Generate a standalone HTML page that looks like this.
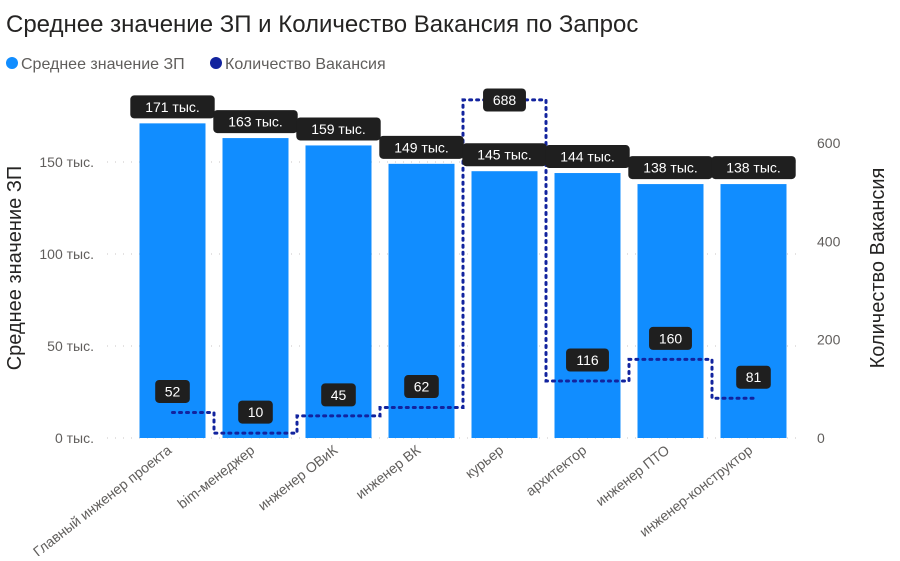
<!DOCTYPE html>
<html><head><meta charset="utf-8"><style>
body{margin:0;background:#fff;font-family:"Liberation Sans","DejaVu Sans",sans-serif;}
</style></head><body>
<svg width="900" height="556" xmlns="http://www.w3.org/2000/svg" font-family="Liberation Sans, DejaVu Sans, sans-serif">
<text x="6" y="32" font-size="24" fill="#252423">Среднее значение ЗП и Количество Вакансия по Запрос</text>
<g>
<circle cx="12" cy="63" r="6" fill="#118DFF"/>
<text x="21" y="69" font-size="16" fill="#605E5C">Среднее значение ЗП</text>
<circle cx="216" cy="63" r="6" fill="#12239E"/>
<text x="225" y="69" font-size="16" fill="#605E5C">Количество Вакансия</text>
</g>
<text transform="translate(21,268) rotate(-90)" text-anchor="middle" font-size="20" fill="#252423">Среднее значение ЗП</text>
<text transform="translate(884,268) rotate(-90)" text-anchor="middle" font-size="20" fill="#252423">Количество Вакансия</text>
<g id="grid"></g><g id="bars"></g><g id="line"></g><g id="labels"></g><g id="axes"></g>
</svg>
<script>
const categories=["Главный инженер проекта","bim-менеджер","инженер ОВиК","инженер ВК","курьер","архитектор","инженер ПТО","инженер-конструктор"];
const salary=[171,163,159,149,145,144,138,138];
const vacancies=[52,10,45,62,688,116,160,81];
const leftTicks=[0,50,100,150];
const rightTicks=[0,200,400,600];
const NS="http://www.w3.org/2000/svg";
const x0=131,step=83,bw=66,base=438;
const yL=v=>base-v*1.84;
const yR=v=>base-v*0.4915;
const cx=i=>x0+step*i+step/2;
function mk(t,a,p){const e=document.createElementNS(NS,t);for(const k in a)e.setAttribute(k,a[k]);p.appendChild(e);return e;}
const grid=document.getElementById('grid'),axes=document.getElementById('axes');
leftTicks.forEach(v=>{
 const l=mk('line',{x1:107,x2:800,y1:yL(v),y2:yL(v),stroke:'#C8C6C4','stroke-dasharray':'1 7'},grid);
 
 
 const t=mk('text',{x:94,y:yL(v)+5,'text-anchor':'end','font-size':14,fill:'#605E5C'},axes);
 t.textContent=v+' тыс.';
 
 
});
rightTicks.forEach(v=>{
 const t=mk('text',{x:817,y:yR(v)+5,'font-size':14,fill:'#605E5C'},axes);
 t.textContent=v;
 
 
});
const bars=document.getElementById('bars'),labels=document.getElementById('labels');
function label(txt,cxp,cy,name){
 const w=txt.length*8.3+18;
 const g=mk('g',{},labels);
 
 
 mk('rect',{x:cxp-w/2,y:cy-11.5,width:w,height:23,rx:4,fill:'#1F1F1F'},g);
 const t=mk('text',{x:cxp,y:cy+5,'text-anchor':'middle','font-size':14,fill:'#fff'},g);
 t.textContent=txt;
}
categories.forEach((c,i)=>{
 const r=mk('rect',{x:cx(i)-bw/2,y:yL(salary[i]),width:bw,height:base-yL(salary[i]),fill:'#118DFF'},bars);
 
 
 label(salary[i]+' тыс.',cx(i),yL(salary[i])-16.5,'bar-label-'+i);
 const t=mk('text',{transform:`translate(${cx(i)},452) rotate(-38)`,'text-anchor':'end','font-size':14,fill:'#605E5C'},axes);
 t.textContent=c;
 
 
});
let d='';
vacancies.forEach((v,i)=>{
 const xs=i===0?cx(0):cx(i)-step/2, xe=i===vacancies.length-1?cx(i):cx(i)+step/2;
 d+=(i===0?'M':'L')+xs+','+yR(v)+' L'+xe+','+yR(v)+' ';
});
const p=mk('path',{d:d,fill:'none',stroke:'#12239E','stroke-width':3,'stroke-dasharray':'2 5','stroke-linecap':'round'},document.getElementById('line'));


vacancies.forEach((v,i)=>{
 label(String(v),cx(i),Math.max(yR(v)-21,100),'line-label-'+i);
});
</script>
</body></html>
